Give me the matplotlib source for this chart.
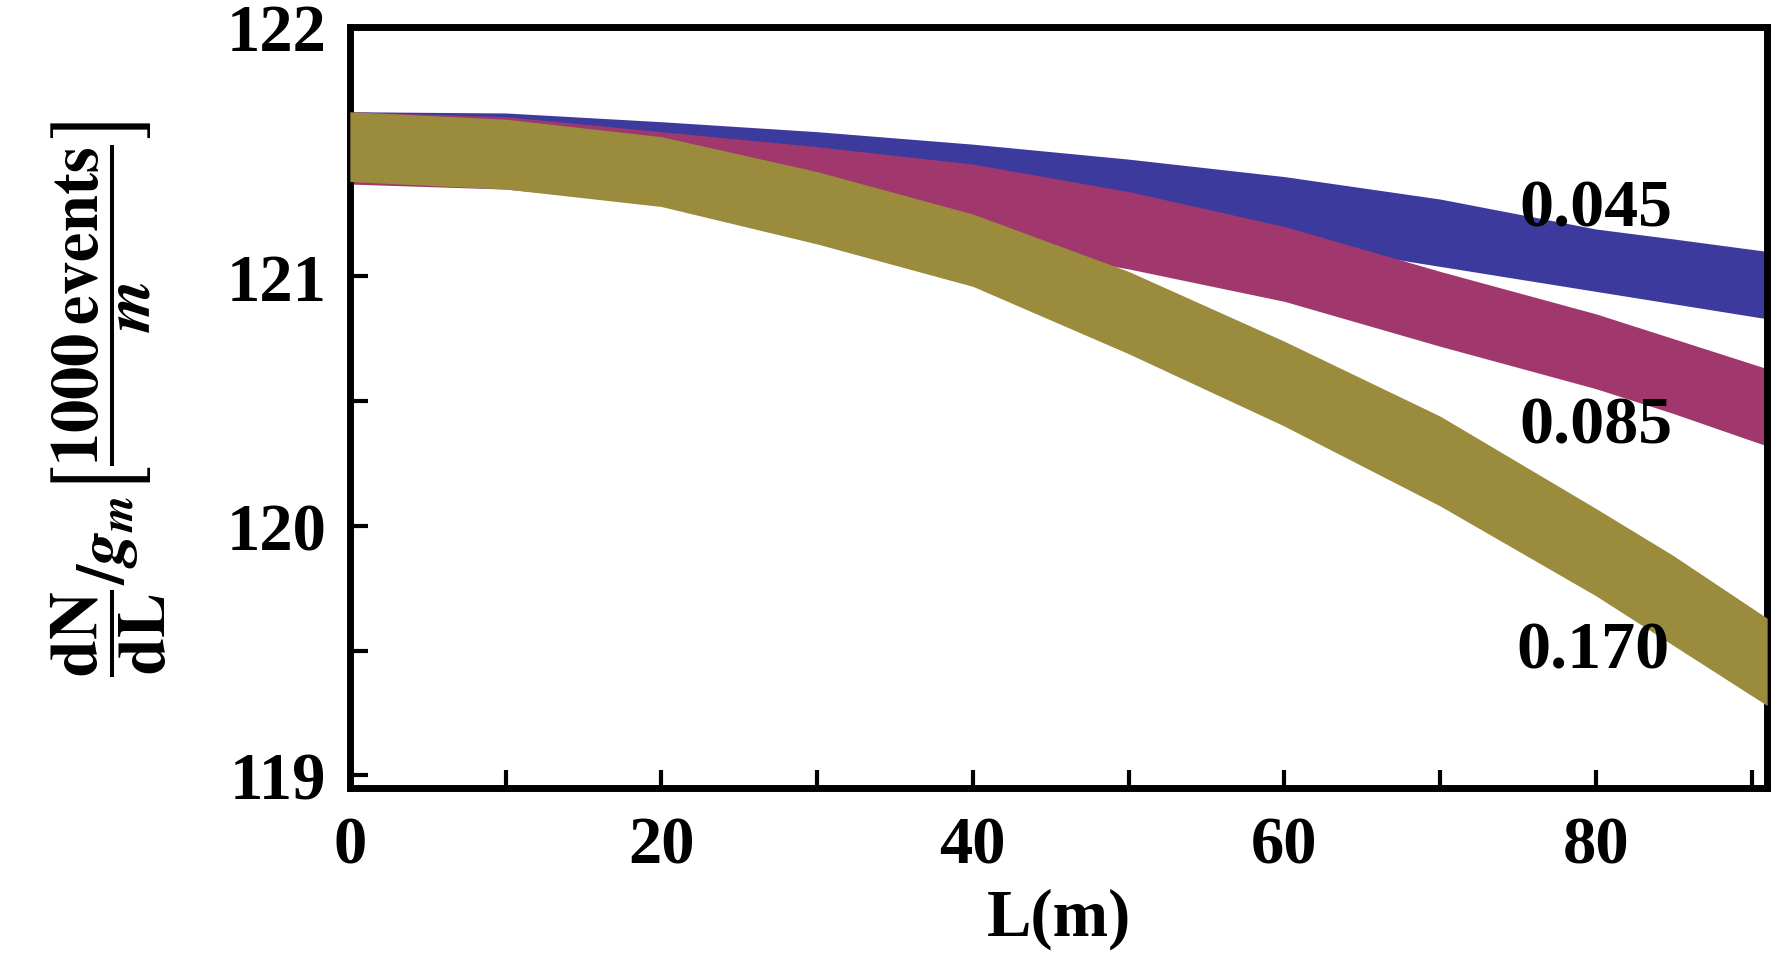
import matplotlib
matplotlib.use("Agg")
import matplotlib.pyplot as plt
from matplotlib.ticker import FixedLocator

plt.rcParams['font.family'] = ['Liberation Serif', 'DejaVu Serif']
plt.rcParams['font.weight'] = 'bold'
plt.rcParams['mathtext.fontset'] = 'stix'

# ---- data ----
L = [0, 10, 20, 30, 40, 50, 60, 70, 80, 85, 91]
blue_upper = [121.66, 121.655, 121.62, 121.58, 121.53, 121.47, 121.40, 121.31, 121.19, 121.15, 121.10]
blue_lower = [121.40, 121.39, 121.36, 121.32, 121.27, 121.21, 121.14, 121.04, 120.94, 120.89, 120.83]
magenta_upper = [121.66, 121.64, 121.58, 121.52, 121.45, 121.34, 121.20, 121.02, 120.85, 120.75, 120.63]
magenta_lower = [121.37, 121.35, 121.29, 121.22, 121.14, 121.03, 120.90, 120.72, 120.55, 120.45, 120.32]
olive_upper = [121.66, 121.63, 121.56, 121.42, 121.25, 121.02, 120.74, 120.44, 120.07, 119.88, 119.63]
olive_lower = [121.38, 121.35, 121.28, 121.13, 120.96, 120.69, 120.40, 120.08, 119.72, 119.52, 119.28]
band_labels = ["0.045", "0.085", "0.170"]
label_L = [80.0, 80.0, 79.8]
label_v = [121.27, 120.40, 119.50]
x_major = [0, 20, 40, 60, 80]
x_minor = [10, 30, 50, 70, 90]
y_major = [119, 120, 121, 122]
y_minor = [119.5, 120.5, 121.5]

colors = ["#3d3a9e", "#a0386e", "#9b8b3c"]

fig = plt.figure(figsize=(17.85, 9.62), dpi=100)
ax = fig.add_axes([0.196, 0.180, 0.794, 0.791])

ax.fill_between(L, blue_lower, blue_upper, color=colors[0], lw=0, zorder=1)
ax.fill_between(L, magenta_lower, magenta_upper, color=colors[1], lw=0, zorder=2)
ax.fill_between(L, olive_lower, olive_upper, color=colors[2], lw=0, zorder=3)

for t, lx, ly in zip(band_labels, label_L, label_v):
    ax.text(lx, ly, t, ha='center', va='center', fontsize=49, fontweight='bold', zorder=5)

ax.set_xlim(0, 91)
ax.set_ylim(118.95, 122.0)

ax.xaxis.set_major_locator(FixedLocator(x_major))
ax.xaxis.set_minor_locator(FixedLocator(x_minor))
ax.yaxis.set_major_locator(FixedLocator(y_major))
ax.yaxis.set_minor_locator(FixedLocator(y_minor))
ax.set_xticklabels([str(v) for v in x_major])
ax.set_yticklabels([str(v) for v in y_major])

ax.tick_params(which='both', direction='in', length=13, width=3, top=False, right=False)
ax.tick_params(axis='x', which='major', pad=20, labelsize=48)
ax.tick_params(axis='y', which='major', pad=17, labelsize=48)
for lab in ax.get_xticklabels() + ax.get_yticklabels():
    lab.set_fontweight('bold')

for s in ax.spines.values():
    s.set_linewidth(5)

ax.set_xlabel('L(m)', fontsize=48, fontweight='bold', labelpad=8)

fig.text(0.061, 0.585,
         r'$\dfrac{\mathbf{dN}}{\mathbf{dL}}/g_m\left[\dfrac{\mathbf{1000\,events}}{m}\right]$',
         rotation=90, ha='center', va='center', fontsize=48)

fig.savefig('out.png', dpi=100)
